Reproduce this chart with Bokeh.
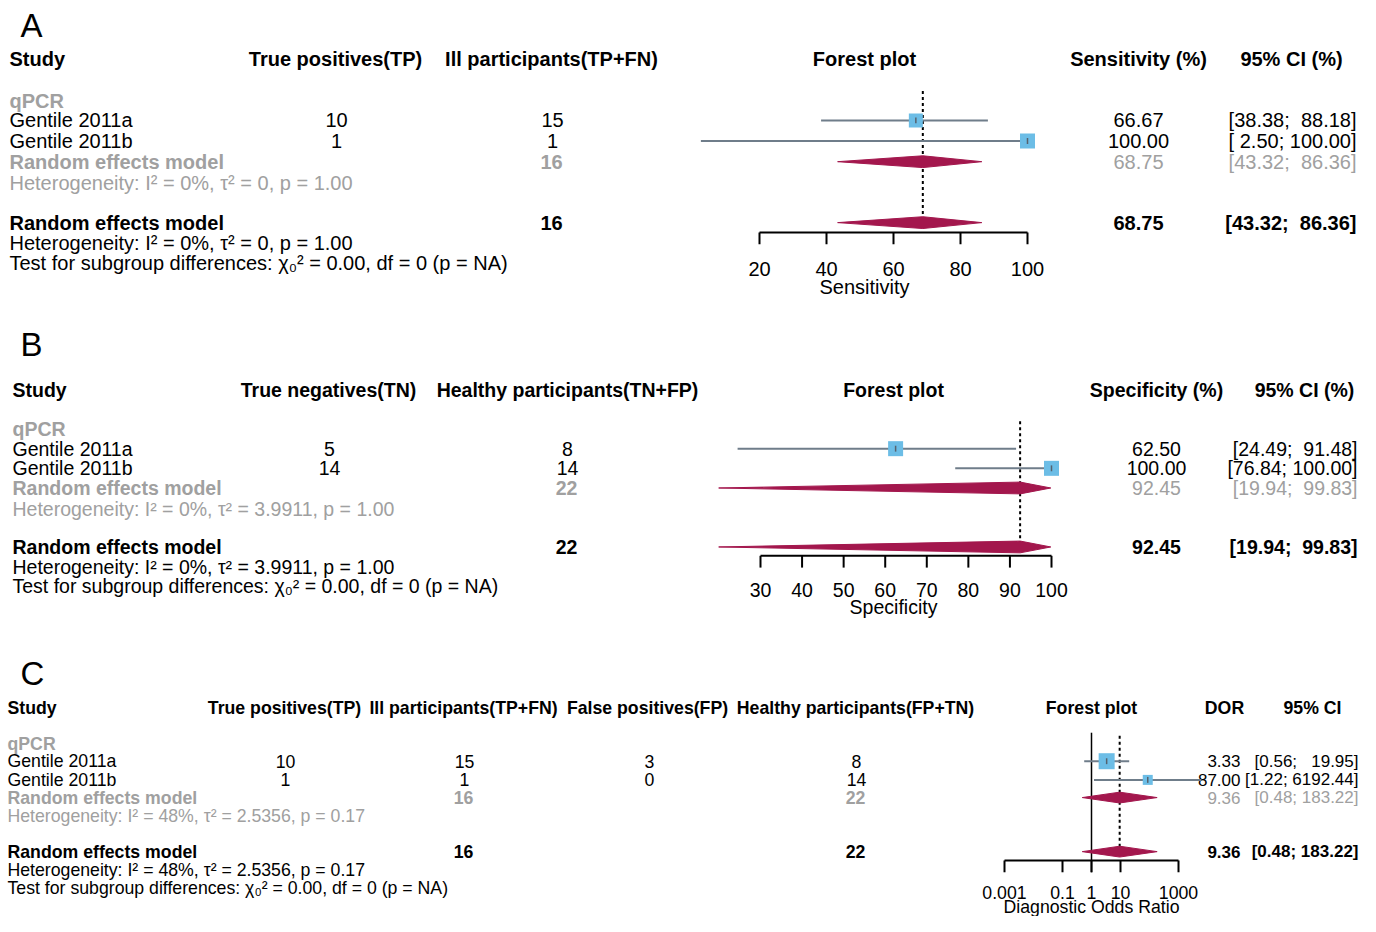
import math
from bokeh.plotting import figure
from bokeh.models import Range1d, LogScale
from bokeh.embed import file_html
from bokeh.resources import INLINE
from bokeh.core.properties import value

# ---------------- data ----------------
studies = ["Gentile 2011a", "Gentile 2011b"]
subgroup = "qPCR"
test_text = "Test for subgroup differences: χ₀² = 0.00, df = 0 (p = NA)"

# Panel A: sensitivity
a_tp = [10, 1]
a_ill = [15, 1]
a_sens = [66.67, 100.00]
a_lo = [38.38, 2.50]
a_hi = [88.18, 100.00]
a_pool = [68.75, 43.32, 86.36]
a_total = 16
a_het = "Heterogeneity: I² = 0%, τ² = 0, p = 1.00"
a_ticks = [20, 40, 60, 80, 100]

# Panel B: specificity
b_tn = [5, 14]
b_healthy = [8, 14]
b_spec = [62.50, 100.00]
b_lo = [24.49, 76.84]
b_hi = [91.48, 100.00]
b_pool = [92.45, 19.94, 99.83]
b_total = 22
b_het = "Heterogeneity: I² = 0%, τ² = 3.9911, p = 1.00"
b_ticks = [30, 40, 50, 60, 70, 80, 90, 100]

# Panel C: diagnostic odds ratio
c_tp = [10, 1]
c_ill = [15, 1]
c_fp = [3, 0]
c_healthy = [8, 14]
c_dor = [3.33, 87.00]
c_lo = [0.56, 1.22]
c_hi = [19.95, 6192.44]
c_pool = [9.36, 0.48, 183.22]
c_ill_total = 16
c_healthy_total = 22
c_het = "Heterogeneity: I² = 48%, τ² = 2.5356, p = 0.17"
c_ticks = [0.001, 0.1, 1, 10, 1000]
c_tick_labels = ["0.001", "0.1", "1", "10", "1000"]

# ---------------- style ----------------
FONT = "Liberation Sans"
GRAY = "#a0a0a0"
SQ = "#6cbde6"
CI_LINE = "#6f7d8a"
DIA = "#a3174d"
NB = "\u00a0"

X0, X1 = 0, 1360
p = figure(width=1360, height=916, x_range=Range1d(X0, X1), y_range=Range1d(932, 0),
           output_backend="svg", toolbar_location=None, min_border=0,
           x_axis_location=None, y_axis_location=None)
p.grid.visible = False
p.outline_line_color = None
p.background_fill_color = "white"
p.border_fill_color = "white"


def lin_range(v0, px0, v1, px1):
    k = (px1 - px0) / (v1 - v0)
    return Range1d(v0 - (px0 - X0) / k, v1 + (X1 - px1) / k)


def log_range(v0, px0, v1, px1):
    l0, l1 = math.log10(v0), math.log10(v1)
    k = (px1 - px0) / (l1 - l0)
    return Range1d(10 ** (l0 - (px0 - X0) / k), 10 ** (l1 + (X1 - px1) / k))


p.extra_x_ranges = {
    "sens": lin_range(20, 759, 100, 1027),
    "spec": lin_range(30, 760, 100, 1051),
    "dor": log_range(0.001, 1004, 1000, 1178),
}
p.extra_x_scales = {"dor": LogScale()}


def txt(x, y, s, size, color="black", bold=False, align="left"):
    p.text(x=[x], y=[y], text=[str(s)], text_font=value(FONT),
           text_font_size=f"{size}px", text_font_style="bold" if bold else "normal",
           text_color=color, text_align=align, text_baseline="middle")


def forest(rng, est, lo, hi, ys, sizes, pool, dia_ys, half_h, dash_top, dash_bot,
           ticks, tick_labels, axis_y, lab_y, title, title_y, fs, title_x):
    pe, plo, phi = pool
    p.segment(x0=[pe], x1=[pe], y0=[dash_top], y1=[dash_bot], line_color="black",
              line_width=2, line_dash="3 3", x_range_name=rng)
    p.segment(x0=lo, x1=hi, y0=ys, y1=ys, line_color=CI_LINE, line_width=2, x_range_name=rng)
    p.scatter(x=est, y=ys, marker="square", size=sizes, fill_color=SQ, line_color=None,
              x_range_name=rng)
    p.segment(x0=est, x1=est, y0=[y - 3 for y in ys], y1=[y + 3 for y in ys],
              line_color="#56626e", line_width=1.5, x_range_name=rng)
    for dy in dia_ys:
        p.patch(x=[plo, pe, phi, pe], y=[dy, dy - half_h, dy, dy + half_h],
                fill_color=DIA, line_color=DIA, line_width=1, x_range_name=rng)
    n = len(ticks)
    p.segment(x0=[ticks[0]], x1=[ticks[-1]], y0=[axis_y], y1=[axis_y], line_color="black",
              line_width=2, x_range_name=rng)
    p.segment(x0=ticks, x1=ticks, y0=[axis_y] * n, y1=[axis_y + 12] * n, line_color="black",
              line_width=2, x_range_name=rng)
    p.text(x=ticks, y=[lab_y] * n, text=tick_labels, text_font=value(FONT),
           text_font_size=f"{fs}px", text_align="center", text_baseline="middle",
           x_range_name=rng)
    txt(title_x, title_y, title, fs, align="center")


def ci(lo, hi, wl, wh):
    return f"[{lo:{wl}.2f}; {hi:{wh}.2f}]".replace(" ", NB)


# ================= Panel A =================
fs = 20
txt(20, 25, "A", 33)
ya = dict(h=60, q=102, s=[122, 143], re=164, het=186, reb=226, het2=247, test=267)
txt(9, ya["h"], "Study", fs, bold=True)
txt(335, ya["h"], "True positives(TP)", fs, bold=True, align="center")
txt(551, ya["h"], "Ill participants(TP+FN)", fs, bold=True, align="center")
txt(864, ya["h"], "Forest plot", fs, bold=True, align="center")
txt(1138, ya["h"], "Sensitivity (%)", fs, bold=True, align="center")
txt(1291, ya["h"], "95% CI (%)", fs, bold=True, align="center")
txt(9, ya["q"], subgroup, fs, GRAY, bold=True)
for i, s in enumerate(studies):
    y = ya["s"][i]
    txt(9, y, s, fs)
    txt(336, y, a_tp[i], fs, align="center")
    txt(552, y, a_ill[i], fs, align="center")
    txt(1138, y, f"{a_sens[i]:.2f}", fs, align="center")
    txt(1356, y, ci(a_lo[i], a_hi[i], 5, 6), fs, align="right")
txt(9, ya["re"], "Random effects model", fs, GRAY, bold=True)
txt(551, ya["re"], a_total, fs, GRAY, bold=True, align="center")
txt(1138, ya["re"], f"{a_pool[0]:.2f}", fs, GRAY, align="center")
txt(1356, ya["re"], ci(a_pool[1], a_pool[2], 5, 6), fs, GRAY, align="right")
txt(9, ya["het"], a_het, fs, GRAY)
txt(9, ya["reb"], "Random effects model", fs, bold=True)
txt(551, ya["reb"], a_total, fs, bold=True, align="center")
txt(1138, ya["reb"], f"{a_pool[0]:.2f}", fs, bold=True, align="center")
txt(1356, ya["reb"], ci(a_pool[1], a_pool[2], 5, 6), fs, bold=True, align="right")
txt(9, ya["het2"], a_het, fs)
txt(9, ya["test"], test_text, fs)
forest("sens", a_sens, a_lo, a_hi, ya["s"], [14, 15], a_pool, [ya["re"], ya["reb"]], 6,
       92, 232, a_ticks, [str(t) for t in a_ticks], 236, 273, "Sensitivity", 291, fs, 864)

# ================= Panel B =================
fs = 19.5
txt(20, 350, "B", 33)
yb = dict(h=396, q=436, s=[456, 476], re=496, het=517, reb=556, het2=576, test=596)
txt(12, yb["h"], "Study", fs, bold=True)
txt(328, yb["h"], "True negatives(TN)", fs, bold=True, align="center")
txt(567, yb["h"], "Healthy participants(TN+FP)", fs, bold=True, align="center")
txt(893, yb["h"], "Forest plot", fs, bold=True, align="center")
txt(1156, yb["h"], "Specificity (%)", fs, bold=True, align="center")
txt(1304, yb["h"], "95% CI (%)", fs, bold=True, align="center")
txt(12, yb["q"], subgroup, fs, GRAY, bold=True)
for i, s in enumerate(studies):
    y = yb["s"][i]
    txt(12, y, s, fs)
    txt(329, y, b_tn[i], fs, align="center")
    txt(567, y, b_healthy[i], fs, align="center")
    txt(1156, y, f"{b_spec[i]:.2f}", fs, align="center")
    txt(1357, y, ci(b_lo[i], b_hi[i], 5, 6), fs, align="right")
txt(12, yb["re"], "Random effects model", fs, GRAY, bold=True)
txt(566, yb["re"], b_total, fs, GRAY, bold=True, align="center")
txt(1156, yb["re"], f"{b_pool[0]:.2f}", fs, GRAY, align="center")
txt(1357, yb["re"], ci(b_pool[1], b_pool[2], 5, 6), fs, GRAY, align="right")
txt(12, yb["het"], b_het, fs, GRAY)
txt(12, yb["reb"], "Random effects model", fs, bold=True)
txt(566, yb["reb"], b_total, fs, bold=True, align="center")
txt(1156, yb["reb"], f"{b_pool[0]:.2f}", fs, bold=True, align="center")
txt(1357, yb["reb"], ci(b_pool[1], b_pool[2], 5, 6), fs, bold=True, align="right")
txt(12, yb["het2"], b_het, fs)
txt(12, yb["test"], test_text, fs)
forest("spec", b_spec, b_lo, b_hi, yb["s"], [15, 15], b_pool, [yb["re"], yb["reb"]], 6,
       428, 561, b_ticks, [str(t) for t in b_ticks], 565, 600, "Specificity", 617, fs, 893)

# ================= Panel C =================
fs = 17.7
fr = 17
txt(20, 685, "C", 33)
yc = dict(h=720, q=756, s=[774, 793], re=811, het=830, reb=866, het2=885, test=903)
txt(7, yc["h"], "Study", fs, bold=True)
txt(284, yc["h"], "True positives(TP)", fs, bold=True, align="center")
txt(463, yc["h"], "Ill participants(TP+FN)", fs, bold=True, align="center")
txt(647, yc["h"], "False positives(FP)", fs, bold=True, align="center")
txt(855, yc["h"], "Healthy participants(FP+TN)", fs, bold=True, align="center")
txt(1091, yc["h"], "Forest plot", fs, bold=True, align="center")
txt(1224, yc["h"], "DOR", fs, bold=True, align="center")
txt(1312, yc["h"], "95% CI", fs, bold=True, align="center")
txt(7, yc["q"], subgroup, fs, GRAY, bold=True)
for i, s in enumerate(studies):
    y = yc["s"][i]
    txt(7, y, s, fs)
    txt(285, y, c_tp[i], fs, align="center")
    txt(464, y, c_ill[i], fs, align="center")
    txt(649, y, c_fp[i], fs, align="center")
    txt(856, y, c_healthy[i], fs, align="center")
    txt(1240, y, f"{c_dor[i]:.2f}", fr, align="right")
    txt(1358, y, ci(c_lo[i], c_hi[i], 4, 7), fr, align="right")
txt(7, yc["re"], "Random effects model", fs, GRAY, bold=True)
txt(463, yc["re"], c_ill_total, fs, GRAY, bold=True, align="center")
txt(855, yc["re"], c_healthy_total, fs, GRAY, bold=True, align="center")
txt(1240, yc["re"], f"{c_pool[0]:.2f}", fr, GRAY, align="right")
txt(1358, yc["re"], ci(c_pool[1], c_pool[2], 4, 6), fr, GRAY, align="right")
txt(7, yc["het"], c_het, fs, GRAY)
txt(7, yc["reb"], "Random effects model", fs, bold=True)
txt(463, yc["reb"], c_ill_total, fs, bold=True, align="center")
txt(855, yc["reb"], c_healthy_total, fs, bold=True, align="center")
txt(1240, yc["reb"], f"{c_pool[0]:.2f}", fr, bold=True, align="right")
txt(1358, yc["reb"], ci(c_pool[1], c_pool[2], 4, 6), fr, bold=True, align="right")
txt(7, yc["het2"], c_het, fs)
txt(7, yc["test"], test_text, fs)
# line of no effect (DOR = 1)
p.segment(x0=[1], x1=[1], y0=[745], y1=[887], line_color="black", line_width=1.5,
          x_range_name="dor")
forest("dor", c_dor, c_lo, c_hi, yc["s"], [16, 10], c_pool, [yc["re"], yc["reb"]], 5.5,
       748, 870, c_ticks, c_tick_labels, 875, 908, "Diagnostic Odds Ratio", 922, fs, 1091)

open("out.html", "w").write(file_html(p, INLINE))
